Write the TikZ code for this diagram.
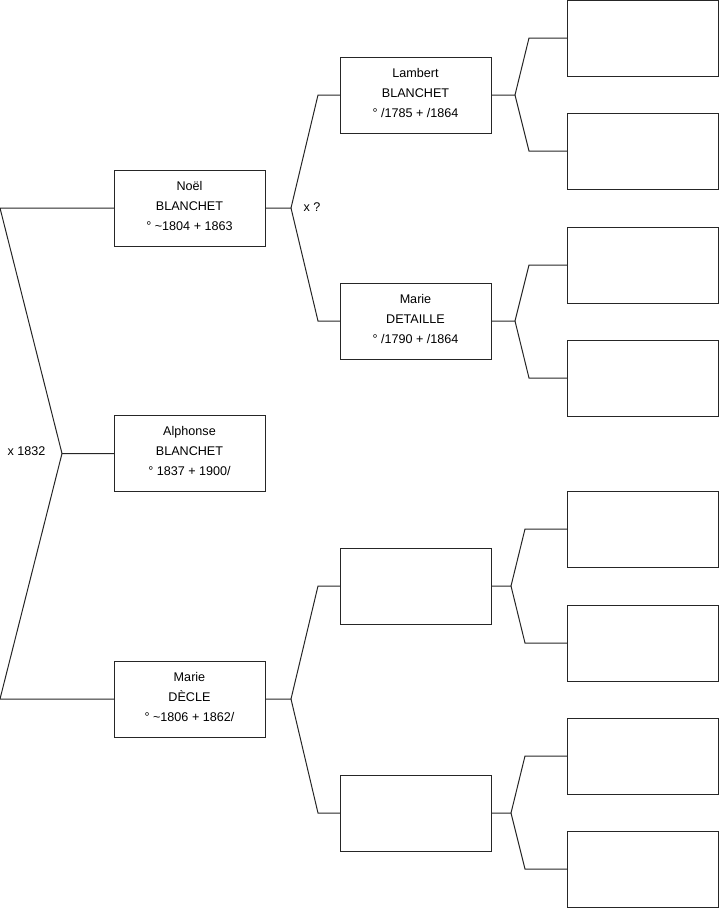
\documentclass[tikz,border=0pt]{standalone}
\usepackage{fontspec}
\setmainfont{Liberation Sans}
\begin{document}
\begin{tikzpicture}[x=1pt,y=-1pt,
  box/.style={draw=black!85,line width=1pt,minimum width=151pt,minimum height=76pt,inner sep=0pt,outer sep=0pt,align=center,text depth=5pt,font=\fontsize{12.6}{20}\selectfont},
  conn/.style={draw=black!85,line width=1pt},
  lbl/.style={font=\fontsize{12.6}{14}\selectfont,inner sep=0pt}]
\useasboundingbox (0,0) rectangle (719,908);
% generation 1
\node[box] (noel) at (189.5,208) {Noël\\BLANCHET\\° \textasciitilde1804 + 1863};
\node[box] (alph) at (189.5,453.5) {Alphonse\\BLANCHET\\° 1837 + 1900/};
\node[box] (decle) at (189.5,699) {Marie\\DÈCLE\\° \textasciitilde1806 + 1862/};
% generation 2
\node[box] (lambert) at (415.5,95) {Lambert\\BLANCHET\\° /1785 + /1864};
\node[box] (detaille) at (415.5,321) {Marie\\DETAILLE\\° /1790 + /1864};
\node[box] (ea) at (415.5,586) {};
\node[box] (eb) at (415.5,813) {};
% generation 3
\node[box] (g1) at (642.5,38) {};
\node[box] (g2) at (642.5,151) {};
\node[box] (g3) at (642.5,265) {};
\node[box] (g4) at (642.5,378) {};
\node[box] (g5) at (642.5,529) {};
\node[box] (g6) at (642.5,643) {};
\node[box] (g7) at (642.5,756) {};
\node[box] (g8) at (642.5,869) {};
% junction coordinates
\coordinate (j0) at (62,453.5);
\coordinate (j0u) at (0,208);
\coordinate (j0d) at (0,699);
\coordinate (j1) at (291,208);
\coordinate (j1u) at (318,95);
\coordinate (j1d) at (318,321);
\coordinate (j2) at (291,699);
\coordinate (j2u) at (318,586);
\coordinate (j2d) at (318,813);
\coordinate (k1) at (515,95);
\coordinate (k1u) at (529,38);
\coordinate (k1d) at (529,151);
\coordinate (k2) at (515,321);
\coordinate (k2u) at (529,265);
\coordinate (k2d) at (529,378);
\coordinate (k3) at (511,586);
\coordinate (k3u) at (525,529);
\coordinate (k3d) at (525,643);
\coordinate (k4) at (511,813);
\coordinate (k4u) at (525,756);
\coordinate (k4d) at (525,869);
% connectors
\draw[conn] (alph.west) -- (j0) -- (j0u) -- (noel.west);
\draw[conn] (j0) -- (j0d) -- (decle.west);
\draw[conn] (noel.east) -- (j1) -- (j1u) -- (lambert.west);
\draw[conn] (j1) -- (j1d) -- (detaille.west);
\draw[conn] (decle.east) -- (j2) -- (j2u) -- (ea.west);
\draw[conn] (j2) -- (j2d) -- (eb.west);
\draw[conn] (lambert.east) -- (k1) -- (k1u) -- (g1.west);
\draw[conn] (k1) -- (k1d) -- (g2.west);
\draw[conn] (detaille.east) -- (k2) -- (k2u) -- (g3.west);
\draw[conn] (k2) -- (k2d) -- (g4.west);
\draw[conn] (ea.east) -- (k3) -- (k3u) -- (g5.west);
\draw[conn] (k3) -- (k3d) -- (g6.west);
\draw[conn] (eb.east) -- (k4) -- (k4u) -- (g7.west);
\draw[conn] (k4) -- (k4d) -- (g8.west);
% marriage labels
\node[lbl] (m0) at (26.5,451) {x 1832};
\node[lbl] (m1) at (312,207) {x ?};
\end{tikzpicture}
\end{document}
